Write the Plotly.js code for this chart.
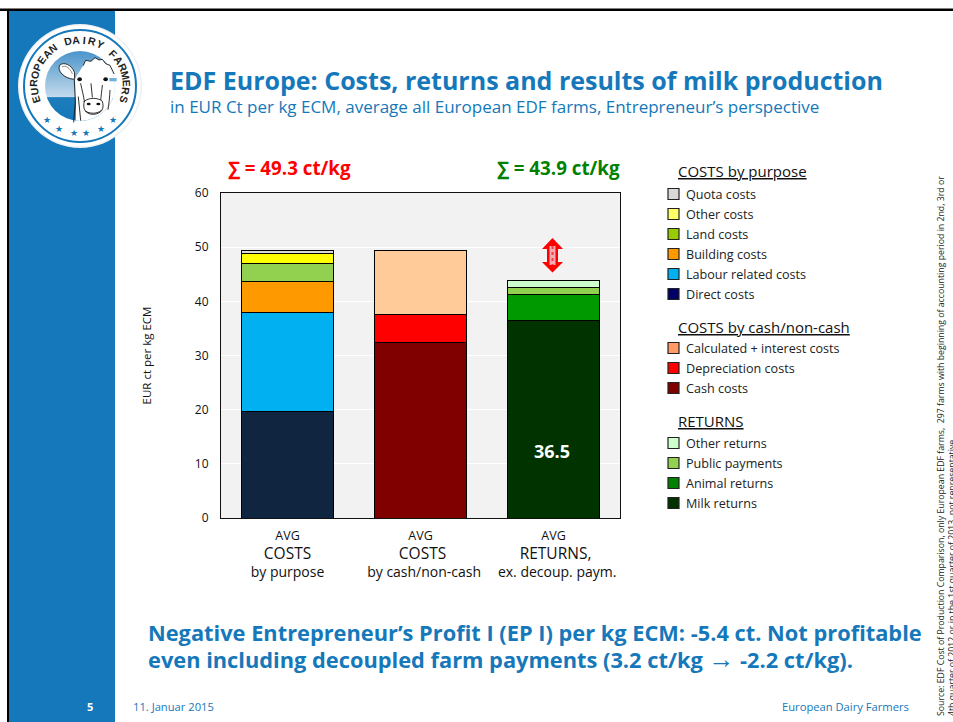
<!DOCTYPE html>
<html><head><meta charset="utf-8">
<script src="https://cdn.plot.ly/plotly-3.0.1.min.js"></script>
<style>html,body{margin:0;padding:0;background:#fff;overflow:hidden}#c{width:953px;height:722px}</style>
</head><body><div id="c"></div>
<script>
const categories = ['by purpose','by cash/non-cash','ex. decoup. paym.'];
const N='\u00a0';
const tickLines = [['AVG','COSTS','by purpose'],['AVG',N+'COSTS',N+N+'by cash/non-cash'],['AVG',N+'RETURNS,',N+N+'ex. decoup. paym.']];
const direct = [19.6,null,null], labour=[18.4,null,null], building=[5.75,null,null], land=[3.15,null,null], other=[1.9,null,null], quota=[0.5,null,null];
const cash=[null,32.4,null], depreciation=[null,5.1,null], calculated=[null,11.8,null];
const milk=[null,null,36.5], animal=[null,null,4.8], publicPay=[null,null,1.3], otherRet=[null,null,1.3];
const seriesNames=['Direct costs','Labour related costs','Building costs','Land costs','Other costs','Quota costs','Cash costs','Depreciation costs','Calculated + interest costs','Milk returns','Animal returns','Public payments','Other returns'];
const seriesValues=[direct,labour,building,land,other,quota,cash,depreciation,calculated,milk,animal,publicPay,otherRet];
const seriesColors=['#10253F','#00B0F0','#FF9900','#92D050','#FFFF00','#D9D9D9','#800000','#FF0000','#FFCC99','#003300','#009900','#92D050','#CCFFCC'];
const legendGroups=[
 {title:'COSTS by purpose',titleY:171.5,rowY:[194,214,234,254,274,294],labels:['Quota costs','Other costs','Land costs','Building costs','Labour related costs','Direct costs'],colors:['#D9D9D9','#FFFF66','#99CC00','#FF9900','#00B0F0','#000066']},
 {title:'COSTS by cash/non-cash',titleY:326.5,rowY:[348,368,388],labels:['Calculated + interest costs','Depreciation costs','Cash costs'],colors:['#FF9966','#FF0000','#800000']},
 {title:'RETURNS',titleY:420.5,rowY:[443,463,483,503],labels:['Other returns','Public payments','Animal returns','Milk returns'],colors:['#CCFFCC','#92D050','#008000','#003300']}
];
const sumLabels=['∑ = 49.3 ct/kg','∑ = 43.9 ct/kg'];
const logoText='EUROPEAN DAIRY FARMERS';
const blue='#1578BA', F='"Open Sans", "Noto Sans", sans-serif';
const W=953,H=722,L=221,R=620,T=193,B=518;
const px=x=>(x-L)/(R-L), py=y=>(B-y)/(B-T);
const ann=(x,y,text,size,color,extra)=>Object.assign({xref:'paper',yref:'paper',x:px(x),y:py(y),text,showarrow:false,xanchor:'left',yanchor:'middle',font:{family:F,size,color}},extra||{});
const rect=(x0,y0,x1,y1,fill,lc,lw,layer)=>({type:'rect',xref:'paper',yref:'paper',x0:px(x0),x1:px(x1),y0:py(y0),y1:py(y1),fillcolor:fill,line:{color:lc||fill,width:lw===undefined?0:lw},layer:layer||'above'});

const traces=seriesNames.map((n,i)=>({type:'bar',name:n,x:categories,y:seriesValues[i],marker:{color:seriesColors[i],line:{color:'#000',width:1}},showlegend:false,hoverinfo:'y+name'}));

const shapes=[
 rect(0,8.5,953,11,'#000000',null,0,'below'),
 rect(7,9,9,722,'#000000',null,0,'below'),
 rect(9,11,115,722,blue,null,0,'below')
];
const annotations=[
 ann(167.5,80.5,'<b>EDF Europe: Costs, returns and results of milk production</b>',25,blue),
 ann(167.5,106,'in EUR Ct per kg ECM, average all European EDF farms, Entrepreneur’s perspective',17,blue),
 ann(226,167.5,'<b>'+sumLabels[0]+'</b>',18.8,'#FF0000'),
 ann(495,167.5,'<b>'+sumLabels[1]+'</b>',18.8,'#008000'),
 ann(145.5,632,'<b>Negative Entrepreneur’s Profit I (EP I) per kg ECM: -5.4 ct. Not profitable</b>',21.8,blue),
 ann(145.5,659,'<b>even including decoupled farm payments (3.2 ct/kg <span style="font-family:Liberation Sans;font-size:26px">→</span> -2.2 ct/kg).</b>',21.8,blue),
 ann(90,706,'<b>5</b>',11,'#fff',{xanchor:'center'}),
 ann(130.5,706,'11. Januar 2015',11.2,blue),
 ann(911,706,'European Dairy Farmers',11.2,blue,{xanchor:'right'}),
 ann(941,446,'Source: EDF Cost of Production Comparison, only European EDF farms,  297 farms with beginning of accounting period in 2nd, 3rd or',8.75,'#222',{textangle:-90,xanchor:'center'}),
 ann(952,578,'4th quarter of 2012 or in the 1st quarter of 2013, not representative',8.75,'#222',{textangle:-90,xanchor:'center'}),
 {xref:'x',yref:'y',x:categories[2],y:12.3,xshift:-2,text:'<b>36.5</b>',showarrow:false,font:{family:F,size:18,color:'#fff'}}
];
legendGroups.forEach(g=>{
 annotations.push(ann(676,g.titleY,'<u>'+g.title+'</u>',15,'#111'));
 g.labels.forEach((t,i)=>{
  annotations.push(ann(684,g.rowY[i],t,12.6,'#222'));
  shapes.push(rect(668,g.rowY[i]-5.5,679,g.rowY[i]+5.5,g.colors[i],'#222',1.2));
 });
});
// double arrow above the returns bar
const ax=552.5, arrow=[[ax,238],[ax+10.5,249],[ax+5.5,249],[ax+5.5,262],[ax+10.5,262],[ax,272.5],[ax-10.5,262],[ax-5.5,262],[ax-5.5,249],[ax-10.5,249]];
shapes.push({type:'path',xref:'paper',yref:'paper',path:'M'+arrow.map(p=>px(p[0])+','+py(p[1])).join('L')+'Z',fillcolor:'#FF0000',line:{width:0}});
shapes.push(rect(ax-3,246,ax+3,265,'#F7A8B0'));
shapes.push({type:'line',xref:'paper',yref:'paper',x0:px(ax),x1:px(ax),y0:py(246),y1:py(265),line:{color:'#F04050',width:2,dash:'dot'}});

// logo medallion
const cx=80,cy=86;
const circ=(r,fill,lc,lw)=>({type:'circle',xref:'paper',yref:'paper',x0:px(cx-r),x1:px(cx+r),y0:py(cy-r),y1:py(cy+r),fillcolor:fill,line:{color:lc||fill,width:lw||0},layer:'below'});
shapes.push(circ(62,'#eef1f4'));shapes.push(circ(60.5,'#ffffff'));shapes.push(circ(56,'#ffffff',blue,2));
const svg=`<svg xmlns="http://www.w3.org/2000/svg" width="130" height="130" viewBox="0 0 390 390"><defs><linearGradient id="g" x1="0" y1="0" x2="0" y2="1"><stop offset="0" stop-color="#4a94cb"/><stop offset=".66" stop-color="#c4dbec"/><stop offset=".665" stop-color="#1d7dbc"/><stop offset="1" stop-color="#1578BA"/></linearGradient><clipPath id="k"><circle cx="195" cy="192" r="105"/></clipPath></defs><circle cx="195" cy="192" r="105" fill="url(#g)"/><g clip-path="url(#k)"><path d="M180 400 L183 250 L180 170 L205 130 L212 115 L228 118 L240 107 L252 114 L262 112 L272 125 L285 130 L305 160 L340 160 L340 400Z" fill="#fff"/></g><g fill="none" stroke="#111" stroke-width="2.6" stroke-linecap="round" stroke-linejoin="round"><path d="M176 300 L181 240 L178 175 M205 130 L212 115 L228 118 L240 107 L252 114 L262 112 L272 125 L285 130 L297 155"/><path d="M178 150 C170 128 145 118 134 130 C126 145 145 170 178 172Z" fill="#fff"/><path d="M142 134 C150 128 165 138 172 155" stroke-width="1.4"/><path d="M197 185 C201 205 206 220 208 238 M262 190 C260 210 258 222 257 236 M190 225 L197 295 M285 205 C284 225 282 245 279 262 M228 185 L232 225"/><path d="M208 238 C220 226 250 226 262 238 C268 258 262 275 235 277 C210 277 202 258 208 238Z" fill="#fff"/><path d="M212 268 C225 276 247 276 258 266"/></g><ellipse cx="221" cy="246" rx="6" ry="4" fill="#111"/><ellipse cx="250" cy="246" rx="6" ry="4" fill="#111"/><ellipse cx="194" cy="172" rx="7" ry="6" fill="#111"/><ellipse cx="272" cy="172" rx="7" ry="6" fill="#111"/><rect x="283" y="168" width="22" height="10" fill="#6fb1dc"/></svg>`;
const images=[{source:'data:image/svg+xml;charset=utf-8,'+encodeURIComponent(svg),xref:'paper',yref:'paper',x:px(15),y:py(22),sizex:130/(R-L),sizey:130/(B-T),xanchor:'left',yanchor:'top',sizing:'stretch',layer:'above'}];
const startA=-107, stepA=214/(logoText.length-1);
[...logoText].forEach((ch,i)=>{
 const d=startA+i*stepA, a=d*Math.PI/180, r=46.5;
 if(ch!==' ')annotations.push(ann(cx+r*Math.sin(a),cy-r*Math.cos(a),'<b>'+ch+'</b>',10,'#222',{xanchor:'center',textangle:d,borderpad:0,font:{family:'"Liberation Sans",sans-serif',size:10.5,color:'#222'}}));
});
[-44,-26,-7,7,26,44].forEach(d=>{
 const a=(180+d)*Math.PI/180,r=47.5;
 annotations.push(ann(cx+r*Math.sin(a),cy-r*Math.cos(a),'★',9,blue,{xanchor:'center',font:{family:'"DejaVu Sans"',size:9,color:blue}}));
});

const tickFmt=l=>'<span style="font-size:12.5px">'+l[0]+'</span><br><span style="font-size:15.5px">'+l[1]+'</span><br><span style="font-size:14px">'+l[2]+'</span>';
const layout={width:W,height:H,margin:{l:L,r:W-R,t:T,b:H-B,pad:0},paper_bgcolor:'rgba(0,0,0,0)',plot_bgcolor:'#F2F2F2',barmode:'stack',bargap:0.315,showlegend:false,
 font:{family:F,size:12,color:'#111'},
 xaxis:{type:'category',tickmode:'array',tickvals:categories,ticktext:tickLines.map(tickFmt),ticks:'',ticklabelstandoff:4,showline:true,mirror:true,linecolor:'#111',linewidth:1,tickfont:{family:F,size:14.2,color:'#111'}},
 yaxis:{range:[0,60],dtick:10,showgrid:true,gridcolor:'#fff',gridwidth:1,zeroline:false,showline:true,mirror:true,linecolor:'#111',linewidth:1,ticks:'outside',ticklen:9,tickcolor:'rgba(0,0,0,0)',tickfont:{family:F,size:12,color:'#111'},title:{text:'EUR ct per kg ECM\u00a0\u00a0\u00a0',font:{family:F,size:11.5,color:'#111'},standoff:40}},
 shapes,annotations,images};
Plotly.newPlot('c',traces,layout,{displayModeBar:false,staticPlot:true});
</script></body></html>
